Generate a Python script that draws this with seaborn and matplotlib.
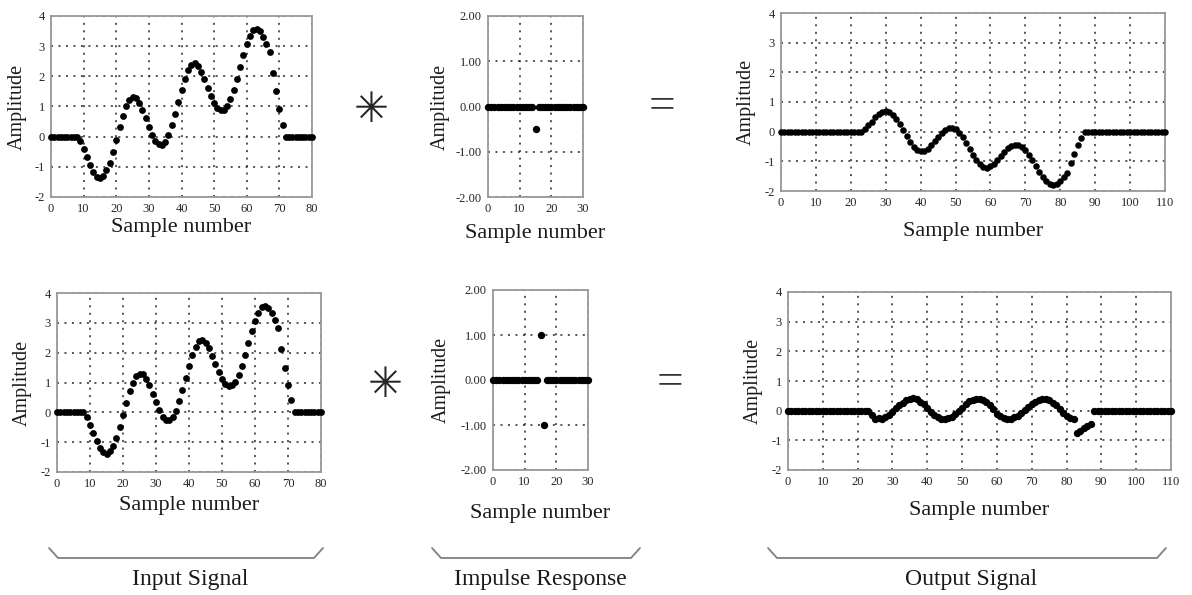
import matplotlib
matplotlib.use("Agg")
import matplotlib.pyplot as plt
from matplotlib.lines import Line2D
import seaborn as sns
import numpy as np

# input signal x[n], n = 0..80
input_signal = [0, 0, 0, 0, 0, 0, 0, 0, 0,
                -0.15, -0.42, -0.68, -0.95, -1.18, -1.33, -1.38, -1.30, -1.12, -0.86,
                -0.50, -0.10, 0.32, 0.70, 1.00, 1.22, 1.30, 1.27, 1.13, 0.90,
                0.62, 0.33, 0.07, -0.14, -0.25, -0.27, -0.17, 0.05, 0.38, 0.75,
                1.15, 1.55, 1.92, 2.20, 2.38, 2.44, 2.34, 2.15, 1.90, 1.62,
                1.35, 1.12, 0.95, 0.88, 0.90, 1.02, 1.25, 1.55, 1.92, 2.32,
                2.72, 3.07, 3.34, 3.52, 3.58, 3.50, 3.32, 3.08, 2.82, 2.12,
                1.50, 0.92, 0.40, 0, 0, 0, 0, 0, 0, 0, 0, 0]

# impulse responses h[n], n = 0..30
impulse_top = [0, 0, 0, 0, 0, 0, 0, 0, 0, 0, 0, 0, 0, 0, 0,
               -0.5,
               0, 0, 0, 0, 0, 0, 0, 0, 0, 0, 0, 0, 0, 0, 0]
impulse_bottom = [0, 0, 0, 0, 0, 0, 0, 0, 0, 0, 0, 0, 0, 0, 0,
                  1.0, -1.0,
                  0, 0, 0, 0, 0, 0, 0, 0, 0, 0, 0, 0, 0, 0]

# output signals y[n], n = 0..110
output_top = [0, 0, 0, 0, 0, 0, 0, 0, 0, 0, 0, 0, 0, 0, 0, 0, 0, 0, 0, 0,
              0, 0, 0, 0, 0.08, 0.21, 0.34, 0.48, 0.59, 0.67,
              0.69, 0.65, 0.56, 0.43, 0.25, 0.05, -0.16, -0.35, -0.50, -0.61,
              -0.65, -0.64, -0.57, -0.45, -0.31, -0.17, -0.04, 0.07, 0.13, 0.14,
              0.09, -0.03, -0.19, -0.38, -0.58, -0.78, -0.96, -1.10, -1.19, -1.22,
              -1.17, -1.08, -0.95, -0.81, -0.68, -0.56, -0.48, -0.44, -0.45, -0.51,
              -0.63, -0.78, -0.96, -1.16, -1.36, -1.54, -1.67, -1.76, -1.79, -1.75,
              -1.66, -1.54, -1.41, -1.06, -0.75, -0.46, -0.20, 0, 0, 0,
              0, 0, 0, 0, 0, 0, 0, 0, 0, 0, 0, 0, 0, 0, 0, 0, 0, 0, 0, 0, 0]
output_bottom = [0, 0, 0, 0, 0, 0, 0, 0, 0, 0, 0, 0, 0, 0, 0, 0, 0, 0, 0, 0,
                 0, 0, 0, 0, -0.15, -0.27, -0.26, -0.27, -0.23, -0.15,
                 -0.05, 0.08, 0.18, 0.26, 0.36, 0.40, 0.42, 0.38, 0.30, 0.22,
                 0.08, -0.03, -0.14, -0.23, -0.28, -0.29, -0.26, -0.21, -0.11, -0.02,
                 0.10, 0.22, 0.33, 0.37, 0.40, 0.40, 0.37, 0.28, 0.18, 0.06,
                 -0.10, -0.19, -0.25, -0.28, -0.27, -0.23, -0.17, -0.07, 0.02, 0.12,
                 0.23, 0.30, 0.37, 0.40, 0.40, 0.35, 0.27, 0.18, 0.06, -0.08,
                 -0.18, -0.24, -0.28, -0.75, -0.67, -0.60, -0.52, -0.44, 0, 0,
                 0, 0, 0, 0, 0, 0, 0, 0, 0, 0, 0, 0, 0, 0, 0, 0, 0, 0, 0, 0, 0]

group_titles = ["Input Signal", "Impulse Response", "Output Signal"]

sns.set_style("white")
plt.rcParams['font.family'] = ['Liberation Serif', 'DejaVu Sans']
plt.rcParams['axes.unicode_minus'] = False

W, H = 1192, 595
fig = plt.figure(figsize=(W / 100, H / 100), dpi=100)


def px_axes(left, top, right, bottom):
    return fig.add_axes([left / W, 1 - bottom / H, (right - left) / W, (bottom - top) / H])


def style(ax, xmax, ylim, yfmt, ylab_x, xlab_y):
    ax.set_xlim(0, xmax)
    ax.set_ylim(*ylim)
    ax.set_xticks(np.arange(0, xmax + 1, 10))
    yt = np.arange(ylim[0], ylim[1] + 1, 1)
    ax.set_yticks(yt)
    ax.set_yticklabels([yfmt % v for v in yt])
    ax.grid(True, linestyle=(0, (1.3, 3.6)), color='0.15', lw=1.1)
    ax.set_axisbelow(True)
    for s in ax.spines.values():
        s.set_color('0.6')
        s.set_linewidth(1.3)
    ax.tick_params(direction='inout', length=5, width=1, color='0.45',
                   labelsize=9, pad=2, labelcolor='0.15')
    ax.set_xlabel("Sample number", fontsize=16, color='0.1')
    ax.set_ylabel("Amplitude", fontsize=14.5, color='0.1')
    # label coords given in axes fractions (label centre)
    ax.yaxis.label.set_va('center')
    ax.xaxis.label.set_va('center')
    ax.yaxis.set_label_coords(ylab_x, 0.5)
    ax.xaxis.set_label_coords(0.5, xlab_y)


def dots(ax, values, size):
    n = np.arange(len(values))
    sns.scatterplot(x=n, y=values, ax=ax, color='black', s=size, linewidth=0,
                    clip_on=False, zorder=3)


# top row
ax = px_axes(51, 16, 312, 197)
dots(ax, input_signal, 24)
style(ax, 80, (-2, 4), "%d", -0.13, -0.17)

ax = px_axes(488, 16, 583, 197)
dots(ax, impulse_top, 28)
style(ax, 30, (-2, 2), "%.2f", -0.5, -0.2)

ax = px_axes(781, 13, 1165, 191)
dots(ax, output_top, 22)
style(ax, 110, (-2, 4), "%d", -0.09, -0.23)

# bottom row
ax = px_axes(57, 293, 321, 472)
dots(ax, input_signal, 24)
style(ax, 80, (-2, 4), "%d", -0.13, -0.185)

ax = px_axes(493, 290, 588, 470)
dots(ax, impulse_bottom, 28)
style(ax, 30, (-2, 2), "%.2f", -0.54, -0.24)

ax = px_axes(788, 292, 1171, 470)
dots(ax, output_bottom, 28)
style(ax, 110, (-2, 4), "%d", -0.09, -0.225)

# convolution and equals signs
for cx, cy in [(371, 110), (385, 385)]:
    fig.text(cx / W, 1 - cy / H, "✳", fontsize=30, ha='center', va='center',
             color='0.15', family=['DejaVu Sans'])
for cx, cy in [(662, 107), (670, 383)]:
    fig.text(cx / W, 1 - cy / H, "=", fontsize=34, ha='center', va='center',
             color='0.2')

# braces with group labels
for (x0, x1), title in zip([(49, 323), (432, 640), (768, 1166)], group_titles):
    xs = [x0, x0 + 9, x1 - 9, x1]
    ys = [548, 558, 558, 548]
    fig.add_artist(Line2D([x / W for x in xs], [1 - y / H for y in ys],
                          color='0.5', lw=1.3))
    fig.text((x0 + x1) / 2 / W + 4 / W, 1 - 580 / H, title, fontsize=17,
             ha='center', va='center', color='0.1')

fig.savefig("out.png", dpi=100)
